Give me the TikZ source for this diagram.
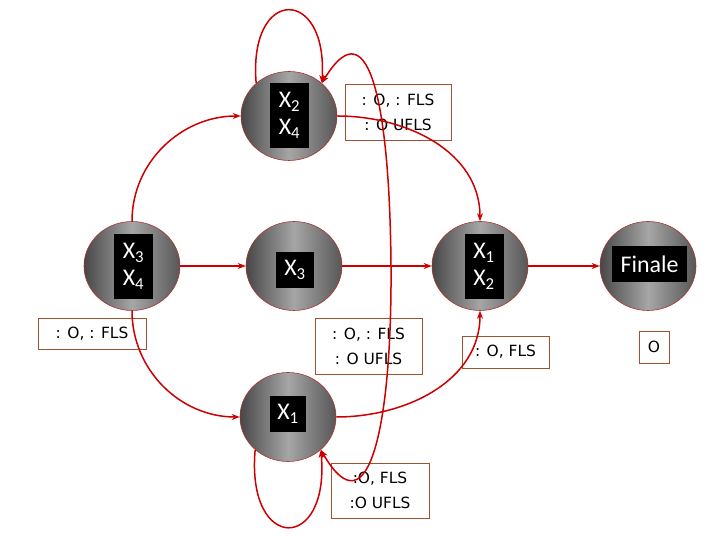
\documentclass[tikz,border=0pt]{standalone}
\usepackage{fontspec}
\setmainfont{Carlito}
\newfontfamily\lblfont{DejaVu Sans}
\usetikzlibrary{arrows.meta,shapes.geometric}
\definecolor{edgered}{RGB}{204,0,0}
\definecolor{boxbrown}{RGB}{160,82,45}
\definecolor{rimred}{RGB}{170,50,50}
\begin{document}
\begin{tikzpicture}[x=1bp,y=1bp,
  state/.style={ellipse, minimum width=96bp, minimum height=89bp, draw=rimred, line width=0.6bp,
    left color=black!72, right color=black!66, middle color=black!35, inner sep=0},
  tag/.style={fill=black, text=white, inner sep=0, align=center, font=\fontsize{24}{27}\selectfont},
  lbl/.style={draw=boxbrown, line width=0.8bp, inner sep=0, align=center, font=\lblfont\fontsize{15.5}{25}\selectfont},
  edge/.style={draw=edgered, line width=1.5bp, -{Stealth[length=8bp,width=6bp]}},
  bothedge/.style={draw=edgered, line width=1.5bp, {Stealth[length=8bp,width=6bp]}-{Stealth[length=8bp,width=6bp]}},
]
\useasboundingbox (0,0) rectangle (720,540);
% states
\node[state] (A) at (289,424) {};
\node[state] (B) at (132,274) {};
\node[state] (C) at (294,274) {};
\node[state] (D) at (480,274) {};
\node[state] (E) at (648,274) {};
\node[state] (F) at (288,123) {};
% black tags
\node[tag, minimum width=39bp, minimum height=65bp] (tA) at (289.5,424.5) {X\textsubscript{2}\\X\textsubscript{4}};
\node[tag, minimum width=39bp, minimum height=65bp] (tB) at (133.5,273.5) {X\textsubscript{3}\\X\textsubscript{4}};
\node[tag, minimum width=38bp, minimum height=36bp] (tC) at (295,270) {X\textsubscript{3}};
\node[tag, minimum width=39bp, minimum height=65bp] (tD) at (484,273.5) {X\textsubscript{1}\\X\textsubscript{2}};
\node[tag, minimum width=75bp, minimum height=36bp] (tE) at (649.5,276) {Finale};
\node[tag, minimum width=36bp, minimum height=36bp] (tF) at (288,126) {X\textsubscript{1}};
% label boxes
\node[lbl, minimum width=106bp, minimum height=56bp] (l1) at (398,428) {: O, : FLS\\: O UFLS};
\node[lbl, minimum width=108bp, minimum height=31bp] (l2) at (92,206.5) {: O, : FLS};
\node[lbl, minimum width=107bp, minimum height=56bp] (l3) at (368.5,194) {: O, : FLS\\: O UFLS};
\node[lbl, minimum width=87bp, minimum height=32bp] (l4) at (505.5,188) {: O, FLS};
\node[lbl, minimum width=30bp, minimum height=32bp] (l5) at (654,193) {O};
\node[lbl, minimum width=98bp, minimum height=55bp] (l6) at (380,49.5) {:O, FLS\\:O UFLS};
% edges
\draw[edge] (B.east) -- (C.west);
\draw[edge] (C.east) -- (D.west);
\draw[edge] (D.east) -- (E.west);
\draw[edge] (B.north) to[out=90,in=180] (A.west);
\draw[edge] (A.east) to[out=0,in=90] (D.north);
\draw[edge] (B.south) to[out=-90,in=180] (F.west);
\draw[edge] (F.east) to[out=0,in=-90] (D.south);
\draw[edge] (A.135) .. controls (248,554) and (328,554) .. (A.45);
\draw[edge] (F.225) .. controls (246,-13) and (330,-13) .. (F.-45);
\coordinate (M) at (391,273);
\draw[bothedge] (F.-45) .. controls (370,5) and (392,120) .. (M) .. controls (390,420) and (372,540) .. (A.45);
\end{tikzpicture}
\end{document}
